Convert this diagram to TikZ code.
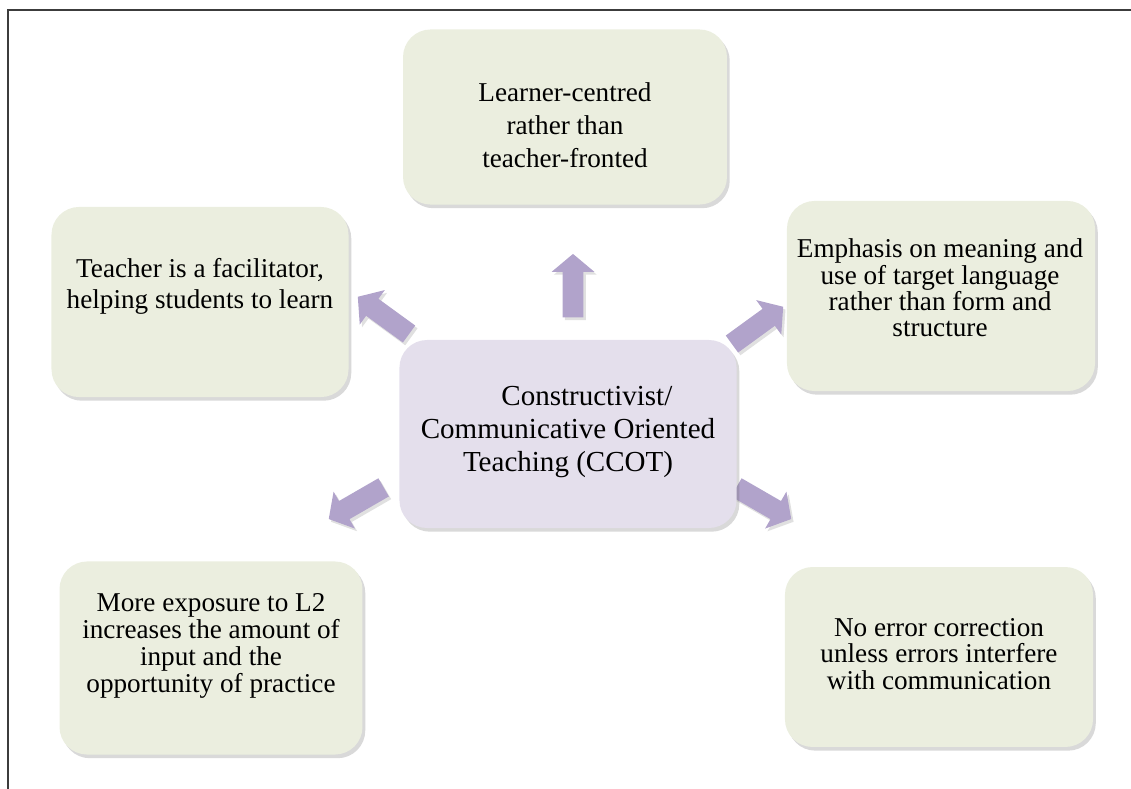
\documentclass[tikz,border=0pt]{standalone}
\usepackage{fontspec}
\setmainfont{Liberation Serif}
\usetikzlibrary{shapes.arrows,shadows}
\definecolor{leaf}{RGB}{235,238,223}
\definecolor{lilac}{RGB}{228,223,236}
\definecolor{plum}{RGB}{177,163,203}
\definecolor{rule}{RGB}{60,60,60}

\begin{document}
\begin{tikzpicture}[x=0.434pt,y=-0.434pt,
  box/.style={rectangle,rounded corners=12pt,fill=leaf,inner sep=0pt,
    drop shadow={shadow xshift=1.2pt,shadow yshift=-1.6pt,opacity=0.25,fill=black!60}},
  hub/.style={box,fill=lilac},
  note/.style={align=center,inner sep=0pt,font=\fontsize{11.8}{#1}\selectfont},
  fat/.style={single arrow,fill=plum,inner xsep=0pt,inner ysep=4.35pt,minimum height=27.5pt,
    single arrow head extend=4.7pt,single arrow tip angle=100,
    drop shadow={shadow xshift=1pt,shadow yshift=-1.2pt,opacity=0.2,fill=black!60}}]
 \useasboundingbox (0,0) rectangle (1131,789);
 % frame
 \draw[line width=0.9pt,rule] (1131,10)--(8,10)--(8,789);
 % block arrows
 \node[fat,rotate=90] (a-up) at (573,290) {};
 \node[fat,rotate=144] (a-ul) at (387,318) {};
 \node[fat,rotate=36] (a-ur) at (754,328) {};
 \node[fat,rotate=210] (a-ll) at (360,501) {};
 \node[fat,rotate=-30] (a-lr) at (760,501) {};
 % boxes
 \node[box,minimum width=140.6pt,minimum height=76pt] (learner) at (565,117) {};
 \node[box,minimum width=128.9pt,minimum height=82.5pt] (teacher) at (200,302) {};
 \node[box,minimum width=133.7pt,minimum height=82.5pt] (meaning) at (941,296) {};
 \node[hub,minimum width=146.3pt,minimum height=81.6pt] (ccot) at (568,434) {};
 \node[box,minimum width=131.5pt,minimum height=83.8pt] (exposure) at (211,658) {};
 \node[box,minimum width=133.7pt,minimum height=78.1pt] (errors) at (939,657) {};
 % texts
 \node[note=14.3pt] (learner-t) at (565,125) {Learner-centred\\rather than\\teacher-fronted};
 \node[note=13.5pt] (teacher-t) at (200,286) {Teacher is a facilitator,\\helping students to learn};
 \node[note=11.4pt] (meaning-t) at (940,288) {Emphasis on meaning and\\use of target language\\rather than form and\\structure};
 \node[note=14.3pt,font=\fontsize{12.6}{14.3}\selectfont] (ccot-t) at (568,432)
   {\hspace*{1.3em}Constructivist/\\Communicative Oriented\\Teaching (CCOT)};
 \node[note=11.7pt] (exposure-t) at (211,646) {More exposure to L2\\increases the amount of\\input and the\\opportunity of practice};
 \node[note=11.4pt] (errors-t) at (939,654) {No error correction\\unless errors interfere\\with communication};
\end{tikzpicture}
\end{document}
